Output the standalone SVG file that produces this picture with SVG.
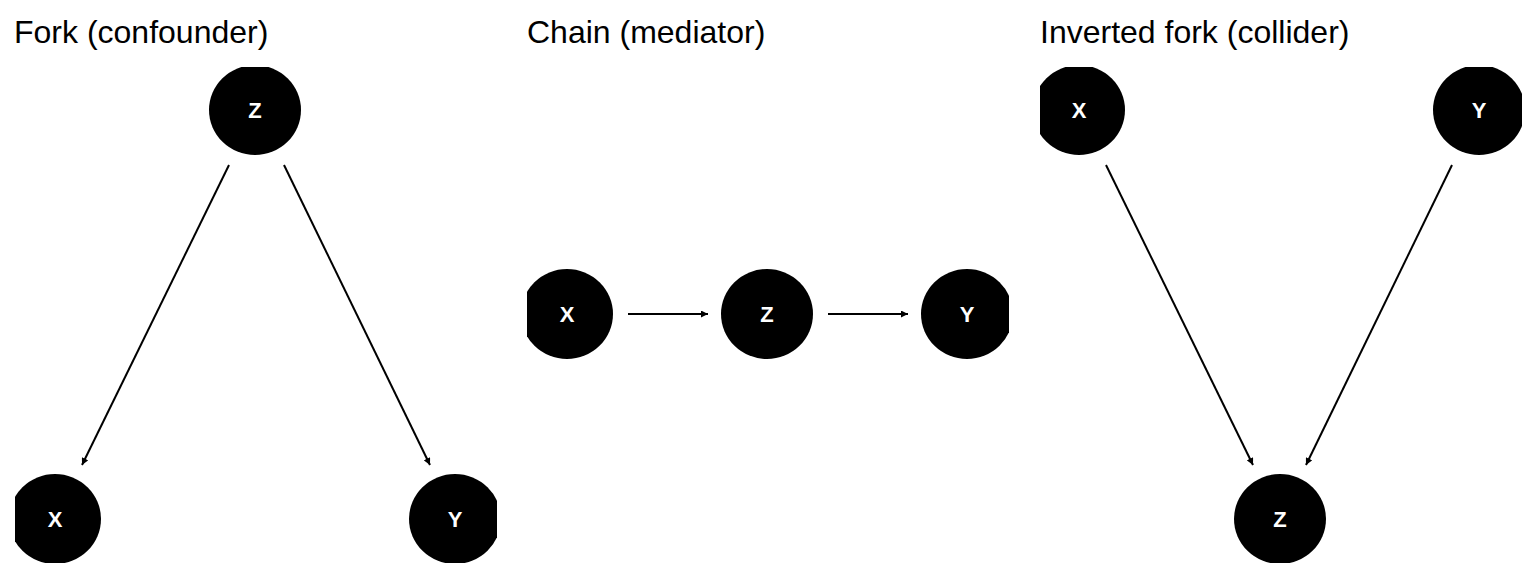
<svg xmlns="http://www.w3.org/2000/svg" width="1536" height="576" viewBox="0 0 1536 576">
<style>
.t{font-family:"Liberation Sans",Arial,sans-serif;font-size:32px;fill:#000}
.n{fill:#000}
.l{font-family:"Liberation Sans",Arial,sans-serif;font-size:22px;font-weight:bold;fill:#fff;text-anchor:middle}
.e{stroke:#000;stroke-width:2;fill:none;marker-end:url(#a)}
</style>
<defs>
<marker id="a" viewBox="0 0 10 10" refX="10" refY="5" markerWidth="7" markerHeight="7" orient="auto" markerUnits="userSpaceOnUse"><path d="M0,0L10,5L0,10z" fill="#000"/></marker>
<clipPath id="c1"><rect x="15" y="67" width="482" height="496"/></clipPath>
<clipPath id="c2"><rect x="527" y="67" width="482" height="496"/></clipPath>
<clipPath id="c3"><rect x="1040" y="67" width="482" height="496"/></clipPath>
</defs>
<rect width="1536" height="576" fill="#fff"/>
<text class="t" x="14" y="43">Fork (confounder)</text>
<text class="t" x="527" y="43">Chain (mediator)</text>
<text class="t" x="1040" y="43">Inverted fork (collider)</text>
<g id="edges">
<line class="e" x1="229" y1="165" x2="82" y2="465"/>
<line class="e" x1="284" y1="165" x2="430" y2="465"/>
<line class="e" x1="628" y1="314" x2="708" y2="314"/>
<line class="e" x1="828" y1="314" x2="908" y2="314"/>
<line class="e" x1="1106" y1="165" x2="1253" y2="465"/>
<line class="e" x1="1452" y1="165" x2="1306" y2="465"/>
</g>
<g clip-path="url(#c1)">
<g id="fork-z"><ellipse class="n" cx="255" cy="110" rx="46" ry="45"/><text class="l" x="255" y="118">Z</text></g>
<g id="fork-x"><ellipse class="n" cx="55" cy="519" rx="46" ry="45"/><text class="l" x="55" y="527">X</text></g>
<g id="fork-y"><ellipse class="n" cx="455" cy="519" rx="46" ry="45"/><text class="l" x="455" y="527">Y</text></g>
</g>
<g clip-path="url(#c2)">
<g id="chain-x"><ellipse class="n" cx="567" cy="314" rx="46" ry="45"/><text class="l" x="567" y="322">X</text></g>
<g id="chain-z"><ellipse class="n" cx="767" cy="314" rx="46" ry="45"/><text class="l" x="767" y="322">Z</text></g>
<g id="chain-y"><ellipse class="n" cx="967" cy="314" rx="46" ry="45"/><text class="l" x="967" y="322">Y</text></g>
</g>
<g clip-path="url(#c3)">
<g id="coll-x"><ellipse class="n" cx="1079" cy="110" rx="46" ry="45"/><text class="l" x="1079" y="118">X</text></g>
<g id="coll-y"><ellipse class="n" cx="1479" cy="110" rx="46" ry="45"/><text class="l" x="1479" y="118">Y</text></g>
<g id="coll-z"><ellipse class="n" cx="1280" cy="519" rx="46" ry="45"/><text class="l" x="1280" y="527">Z</text></g>
</g>
</svg>
